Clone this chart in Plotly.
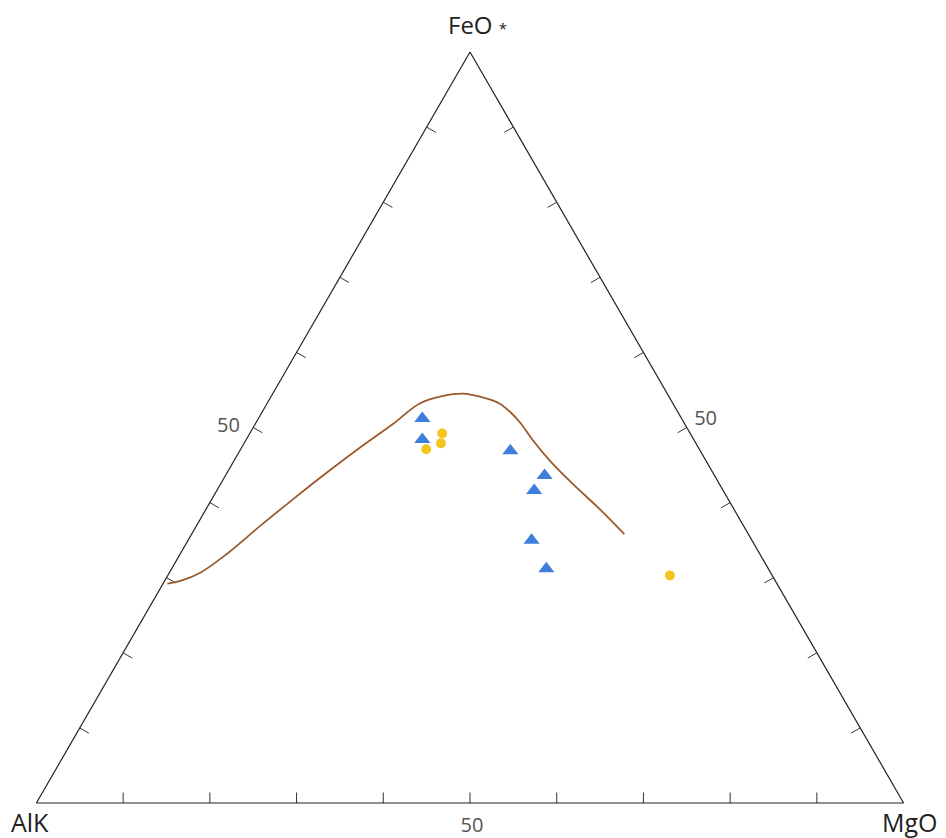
import plotly.graph_objects as go

# Data in ternary percentages: FeO* (a), Alk (b), MgO (c)
tri_feo = [51.2, 48.4, 46.9, 43.6, 41.6, 35.0, 31.2]
tri_alk = [29.9, 31.3, 21.9, 19.6, 21.8, 25.4, 25.6]
tri_mgo = [18.9, 20.3, 31.2, 36.8, 36.6, 39.6, 43.2]

dot_feo = [47.1, 49.2, 47.9, 30.3]
dot_alk = [31.5, 28.6, 29.4, 11.8]
dot_mgo = [21.4, 22.2, 22.7, 57.9]

curve_feo = [29.2, 29.6, 30.7, 33.2, 37.0, 40.5, 44.0, 47.4, 50.5, 53.2, 54.2, 54.5, 54.1, 53.7, 53.2, 52.0, 50.7, 48.3, 45.6, 42.5, 39.2, 35.8]
curve_alk = [70.3, 68.5, 65.7, 61.4, 55.7, 50.1, 44.5, 38.9, 33.6, 29.2, 26.0, 23.5, 21.8, 20.8, 20.0, 19.3, 18.9, 18.6, 18.0, 16.9, 15.5, 14.3]
curve_mgo = [0.5, 1.9, 3.6, 5.4, 7.4, 9.4, 11.5, 13.7, 15.9, 17.6, 19.8, 22.0, 24.1, 25.5, 26.8, 28.7, 30.4, 33.1, 36.4, 40.6, 45.3, 49.9]

tickvals = [10, 20, 30, 40, 50, 60, 70, 80, 90]
ticktext = ["", "", "", "", "50", "", "", "", ""]

# Tick marks drawn perpendicular to each edge, pointing inward
TL = 1.4
ta, tb, tc = [], [], []
for v in tickvals:
    # left edge (MgO = 0), tick at FeO = v
    ta += [v, v - TL / 2, None]; tb += [100 - v, 100 - v - TL / 2, None]; tc += [0, TL, None]
    # bottom edge (FeO = 0), tick at Alk = v
    ta += [0, TL, None]; tb += [v, v - TL / 2, None]; tc += [100 - v, 100 - v - TL / 2, None]
    # right edge (Alk = 0), tick at MgO = v
    ta += [100 - v, 100 - v - TL / 2, None]; tb += [0, TL, None]; tc += [v, v - TL / 2, None]

fig = go.Figure()
fig.add_trace(go.Scatterternary(
    a=ta, b=tb, c=tc, mode="lines", line=dict(color="#333333", width=1),
    showlegend=False, hoverinfo="skip", connectgaps=False))
fig.add_trace(go.Scatterternary(
    a=curve_feo, b=curve_alk, c=curve_mgo, mode="lines",
    line=dict(color="#9c5a2c", width=1.8, shape="spline", smoothing=1.0),
    showlegend=False, hoverinfo="skip"))
fig.add_trace(go.Scatterternary(
    a=tri_feo, b=tri_alk, c=tri_mgo, mode="markers",
    marker=dict(symbol="triangle-up", size=14, color="#3d7ddb"),
    showlegend=False))
fig.add_trace(go.Scatterternary(
    a=dot_feo, b=dot_alk, c=dot_mgo, mode="markers",
    marker=dict(symbol="circle", size=10, color="#f3c521"),
    showlegend=False))

def axis(ticklen):
    return dict(
        tickmode="array", tickvals=tickvals, ticktext=ticktext,
        ticks="outside", ticklen=ticklen, tickcolor="rgba(0,0,0,0)",
        showgrid=False, linecolor="#222222", linewidth=1.2,
        tickfont=dict(family="Open Sans", size=20, color="#555555"),
        title=dict(text=""), min=0,
    )

label_font = dict(family="Open Sans", size=25, color="#222222")

fig.update_layout(
    width=938, height=830,
    margin=dict(l=27, r=41, t=44, b=35, autoexpand=False),
    paper_bgcolor="white",
    font=dict(family="Open Sans"),
    ternary=dict(
        sum=100,
        bgcolor="white",
        aaxis=axis(10),
        baxis=axis(4),
        caxis=axis(8),
    ),
    annotations=[
        dict(text="FeO <span style='font-size:15px'>*</span>", x=0.509, y=1.037, xref="paper", yref="paper",
             xanchor="center", yanchor="middle", showarrow=False,
             font=dict(family="Open Sans", size=24, color="#222222")),
        dict(text="AlK", x=-0.006, y=-0.025, xref="paper", yref="paper",
             xanchor="center", yanchor="middle", showarrow=False, font=label_font),
        dict(text="MgO", x=1.006, y=-0.025, xref="paper", yref="paper",
             xanchor="center", yanchor="middle", showarrow=False, font=label_font),
    ],
)

fig.write_html("out.html")
